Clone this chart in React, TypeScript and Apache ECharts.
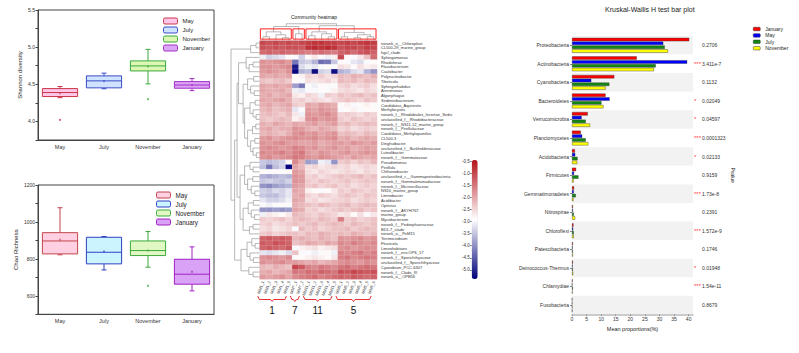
import React, { useEffect, useRef } from 'react';
import * as echarts from 'echarts';

// ---------- Box plots ----------
const months = ['May', 'July', 'November', 'January'];
// [min, Q1, median, Q3, max, mean]
const shannonStats = [
  [4.32, 4.335, 4.389, 4.442, 4.47, 4.38],
  [4.44, 4.452, 4.546, 4.613, 4.65, 4.54],
  [4.505, 4.68, 4.747, 4.815, 4.97, 4.74],
  [4.415, 4.447, 4.49, 4.536, 4.577, 4.49],
];
const shannonOutliers = [[0, 4.02], [2, 4.3]];
const chaoStats = [
  [822, 827, 897, 942, 1077, 903],
  [740, 773, 836, 917, 921, 840],
  [755, 818, 845, 897, 948, 846],
  [627, 663, 717, 798, 865, 731],
];
const chaoOutliers = [[2, 654]];

const topStroke = ['#c8374a', '#3a4cc4', '#3caa3c', '#a42fc8'];
const topFill = ['#ffc6e8', '#cfe2ff', '#dcf7b4', '#dba6f4'];
const botStroke = ['#c0454d', '#2f3fc0', '#3caa3c', '#a020c0'];
const botFill = ['#ffd0e2', '#ccf4ff', '#e2f8c4', '#d9a2f6'];

// ---------- Heatmap ----------
const rowNames = [
  'norank_o__Chloroplast', 'CL500-29_marine_group', 'hgcI_clade', 'Sphingomonas', 'Rhodoferax',
  'Flavobacterium', 'Caulobacter', 'Polynucleobacter', 'Tibeticola', 'Sphingorhabdus',
  'Arenimonas', 'Algoriphagus', 'Sediminibacterium', 'Candidatus_Aquirestis', 'Methylocystis',
  'norank_f__Rhodobiales_Incertae_Sedis', 'unclassified_f__Rhodobacteraceae', 'norank_f__NS11-12_marine_group', 'norank_f__Pirellulaceae', 'Candidatus_Methylopumilus',
  'CL500-3', 'Dinghuibacter', 'unclassified_f__Burkholderiaceae', 'Luteolibacter', 'norank_f__Gemmataceae',
  'Pseudomonas', 'Pirellula', 'Chthoniobacter', 'unclassified_c__Gammaproteobacteria', 'norank_f__Gemmatimonadaceae',
  'norank_f__Microscillaceae', 'NS10_marine_group', 'Limnobacter', 'Acidibacter', 'Opitutus',
  'norank_f__AKYH767', 'marine_group', 'Mycobacterium', 'norank_f__Pedosphaeraceae', 'BD1-7_clade',
  'norank_o__PeM15', 'Terrimicrobium', 'Fluviicola', 'Limnohabitans', 'norank_f__env.OPS_17',
  'norank_f__Sporichthyaceae', 'unclassified_f__Sporichthyaceae', 'Cyanobium_PCC-6307', 'norank_f__Clade_III', 'norank_o__OPB56',
];
const groupLabels = ['1', '7', '11', '5'];
const groupSizes = [5, 2, 5, 6];
const colNames = [
  'MM1_1', 'MM1_2', 'MM1_3', 'MM1_4', 'MM1_5',
  'MM7_1', 'MM7_2',
  'MM11_1', 'MM11_2', 'MM11_3', 'MM11_4', 'MM11_5',
  'MM5_1', 'MM5_2', 'MM5_3', 'MM5_4', 'MM5_5', 'MM5_6',
];
const heatValues = [
  [-1.0, -1.1, -1.0, -1.1, -1.0, -1.1, -1.0, -0.9, -0.8, -0.8, -0.9, -0.9, -1.0, -0.9, -1.0, -0.9, -0.8, -0.9],
  [-1.1, -1.2, -1.1, -1.2, -1.1, -1.1, -1.2, -0.8, -0.7, -0.8, -0.7, -0.8, -1.1, -1.0, -1.0, -1.1, -0.9, -1.0],
  [-1.4, -1.3, -1.4, -1.3, -1.4, -1.4, -1.5, -1.6, -1.5, -1.4, -1.5, -1.6, -1.3, -1.2, -1.4, -1.2, -1.1, -1.3],
  [-3.1, -3.4, -3.3, -3.2, -2.9, -3.0, -3.4, -2.9, -2.7, -3.0, -3.1, -2.8, -1.0, -2.9, -3.0, -2.7, -2.3, -1.4],
  [-1.8, -1.9, -1.8, -1.7, -1.9, -4.3, -3.5, -3.4, -3.7, -4.4, -4.3, -3.5, -2.9, -3.0, -3.2, -3.3, -3.0, -2.9],
  [-1.8, -1.8, -1.9, -1.8, -1.7, -5.2, -3.3, -3.1, -3.2, -3.0, -2.9, -3.0, -2.6, -2.7, -2.9, -2.6, -2.8, -2.7],
  [-1.9, -1.8, -1.9, -2.0, -1.8, -5.4, -3.7, -3.6, -5.3, -3.4, -3.3, -5.3, -3.7, -3.6, -3.3, -3.2, -3.7, -4.0],
  [-2.0, -2.1, -2.0, -2.1, -2.0, -2.9, -2.8, -2.5, -2.6, -2.4, -2.6, -2.5, -2.2, -2.3, -2.1, -2.2, -2.3, -2.1],
  [-2.3, -2.4, -2.3, -2.2, -2.4, -2.9, -3.0, -2.6, -2.7, -2.6, -2.5, -2.7, -2.2, -2.3, -2.2, -2.4, -2.2, -2.3],
  [-2.0, -2.1, -2.0, -2.1, -2.0, -3.9, -4.3, -3.0, -3.1, -2.9, -3.0, -3.0, -2.5, -2.4, -2.6, -2.5, -2.4, -2.6],
  [-2.0, -2.1, -2.1, -2.0, -2.2, -3.1, -3.2, -3.0, -3.0, -2.9, -3.0, -2.8, -2.6, -2.5, -2.6, -2.7, -2.5, -2.6],
  [-2.1, -2.0, -2.2, -2.1, -2.0, -2.7, -2.8, -2.5, -2.6, -3.1, -2.4, -2.5, -2.3, -2.4, -2.3, -2.2, -2.4, -2.3],
  [-2.0, -2.1, -2.0, -1.9, -2.1, -2.5, -2.4, -2.6, -2.5, -2.6, -2.7, -2.5, -2.4, -2.3, -2.4, -2.5, -2.3, -2.4],
  [-2.1, -2.0, -2.2, -2.1, -2.0, -2.4, -2.5, -2.0, -2.1, -1.9, -2.0, -2.1, -2.9, -2.8, -3.0, -2.9, -2.8, -3.0],
  [-2.2, -2.1, -2.3, -2.2, -2.1, -3.2, -3.0, -1.9, -2.0, -1.8, -1.9, -2.0, -3.0, -2.9, -2.8, -3.0, -2.9, -2.9],
  [-2.3, -2.2, -2.3, -2.4, -2.2, -2.7, -3.1, -1.8, -1.9, -1.8, -1.7, -1.9, -2.5, -2.4, -2.5, -2.6, -2.4, -2.5],
  [-2.3, -2.4, -2.3, -2.2, -2.3, -2.8, -2.6, -1.8, -1.7, -1.9, -1.8, -1.8, -2.4, -2.5, -2.3, -2.4, -2.5, -2.4],
  [-2.1, -2.2, -2.0, -2.1, -2.2, -2.0, -2.1, -2.0, -1.9, -2.1, -2.0, -1.9, -2.3, -2.2, -2.4, -2.3, -2.2, -2.3],
  [-2.1, -2.0, -2.2, -2.1, -2.1, -1.8, -1.9, -2.1, -2.2, -2.0, -2.1, -2.2, -2.5, -2.4, -2.6, -2.5, -2.4, -2.5],
  [-2.2, -2.1, -2.2, -2.3, -2.1, -1.8, -1.7, -1.9, -1.8, -2.0, -1.9, -1.8, -2.3, -2.2, -2.3, -2.4, -2.2, -2.3],
  [-1.9, -1.8, -2.0, -1.9, -1.8, -1.7, -1.8, -1.8, -1.7, -1.9, -1.8, -1.7, -2.1, -2.0, -2.2, -2.1, -2.0, -2.1],
  [-1.8, -1.9, -1.8, -1.7, -1.9, -1.9, -2.0, -2.0, -1.9, -2.1, -2.0, -1.9, -1.9, -2.0, -1.8, -1.9, -2.0, -1.9],
  [-1.8, -1.7, -1.8, -1.9, -1.8, -1.6, -1.7, -1.9, -1.8, -2.0, -1.9, -1.8, -2.0, -1.9, -2.1, -2.0, -1.9, -2.0],
  [-1.7, -1.8, -1.7, -1.6, -1.8, -1.6, -1.5, -1.9, -2.0, -1.8, -1.9, -2.0, -1.9, -1.8, -2.0, -1.9, -1.8, -1.9],
  [-1.8, -1.7, -1.9, -1.8, -1.7, -1.5, -1.6, -1.8, -1.9, -1.7, -1.8, -1.9, -2.0, -2.1, -1.9, -2.0, -2.1, -2.0],
  [-3.5, -3.6, -3.5, -3.4, -2.9, -1.7, -2.1, -3.9, -3.8, -3.1, -3.2, -4.0, -2.4, -2.3, -2.5, -2.3, -2.4, -2.2],
  [-3.6, -4.3, -3.6, -3.4, -5.4, -2.0, -2.2, -2.6, -2.5, -2.7, -2.6, -2.5, -2.6, -2.5, -2.7, -2.6, -2.5, -2.6],
  [-2.9, -3.0, -2.9, -3.0, -2.9, -1.9, -2.0, -2.6, -2.7, -2.5, -2.6, -2.7, -2.6, -2.5, -2.6, -2.7, -2.5, -2.6],
  [-3.7, -3.8, -3.7, -3.6, -3.7, -1.8, -1.9, -2.5, -2.4, -2.6, -2.5, -2.4, -2.3, -2.4, -2.3, -2.2, -2.4, -2.3],
  [-3.5, -3.4, -3.5, -3.6, -3.4, -1.8, -1.9, -2.4, -2.5, -2.3, -2.4, -2.5, -2.4, -2.3, -2.5, -2.4, -2.3, -2.4],
  [-4.0, -4.1, -3.9, -3.8, -3.7, -1.9, -2.0, -2.4, -2.3, -2.5, -2.4, -2.3, -2.5, -2.4, -2.6, -2.5, -2.4, -2.5],
  [-3.4, -3.5, -3.3, -3.4, -3.2, -2.0, -2.1, -2.8, -2.9, -3.0, -2.9, -2.7, -2.4, -2.5, -2.3, -2.4, -2.5, -2.4],
  [-3.5, -3.6, -3.6, -3.4, -3.2, -2.1, -2.0, -2.5, -2.6, -2.4, -2.5, -2.6, -2.4, -2.3, -2.4, -2.5, -2.3, -2.4],
  [-3.2, -3.4, -3.4, -3.3, -3.1, -2.0, -2.1, -2.6, -2.5, -2.7, -2.6, -2.5, -2.5, -2.4, -2.6, -2.5, -2.4, -2.5],
  [-3.0, -3.1, -3.0, -2.9, -3.0, -2.1, -2.2, -2.3, -2.4, -2.2, -2.3, -2.4, -2.3, -2.2, -2.4, -2.3, -2.2, -2.3],
  [-4.0, -4.0, -3.9, -4.0, -3.9, -2.0, -2.1, -2.5, -2.4, -2.6, -2.5, -2.4, -2.3, -2.4, -2.3, -2.2, -2.4, -2.3],
  [-3.1, -2.7, -2.8, -2.9, -2.7, -2.2, -2.3, -2.4, -2.5, -2.3, -2.4, -2.5, -2.7, -2.6, -2.9, -2.6, -3.0, -2.7],
  [-2.4, -2.5, -2.4, -2.3, -2.5, -2.3, -2.2, -2.3, -2.4, -2.2, -2.3, -2.4, -1.6, -2.4, -2.3, -2.5, -2.4, -2.3],
  [-2.5, -2.4, -2.6, -2.5, -2.4, -2.3, -2.4, -2.3, -2.2, -2.4, -2.3, -2.2, -2.3, -2.4, -2.2, -2.3, -2.4, -2.3],
  [-2.6, -2.5, -2.7, -2.6, -2.5, -3.0, -2.2, -2.4, -2.3, -2.5, -2.4, -2.3, -2.3, -2.2, -2.4, -2.3, -2.2, -2.3],
  [-2.4, -2.3, -2.5, -2.4, -2.3, -2.3, -2.4, -2.2, -2.3, -2.1, -2.2, -2.3, -2.2, -2.3, -2.1, -2.2, -2.3, -2.2],
  [-1.3, -1.2, -1.3, -1.2, -1.3, -2.2, -2.1, -2.2, -2.3, -2.1, -2.2, -2.3, -1.8, -1.9, -1.8, -1.7, -1.9, -1.8],
  [-1.2, -1.3, -1.1, -1.2, -1.3, -2.3, -2.2, -2.0, -2.1, -2.2, -2.0, -2.1, -1.7, -1.8, -1.6, -1.7, -1.8, -1.7],
  [-1.3, -1.2, -1.3, -1.4, -1.2, -3.0, -2.8, -2.7, -2.6, -2.8, -2.7, -2.6, -1.8, -1.7, -1.9, -1.8, -1.7, -1.8],
  [-3.2, -3.3, -3.2, -3.1, -3.3, -2.3, -3.0, -3.0, -3.1, -3.0, -2.9, -3.1, -1.6, -1.7, -1.6, -1.5, -1.7, -1.6],
  [-1.8, -1.7, -1.8, -1.9, -1.7, -3.0, -2.9, -2.8, -2.7, -2.8, -2.9, -2.7, -1.6, -1.5, -1.7, -1.6, -1.5, -1.6],
  [-1.8, -1.9, -1.8, -1.7, -1.9, -1.9, -2.0, -2.1, -2.0, -2.2, -2.1, -2.0, -1.8, -1.7, -1.8, -1.9, -1.7, -1.8],
  [-2.2, -2.3, -2.1, -2.2, -2.3, -1.0, -1.2, -1.6, -1.7, -1.5, -1.6, -1.7, -1.5, -1.4, -1.6, -1.5, -1.4, -1.5],
  [-2.1, -2.0, -2.2, -2.1, -2.0, -1.5, -1.6, -1.4, -1.5, -1.3, -1.4, -1.5, -1.1, -1.2, -1.0, -1.1, -1.2, -1.1],
  [-1.9, -2.0, -1.9, -1.8, -2.0, -1.7, -1.6, -1.5, -1.4, -1.6, -1.5, -1.4, -1.3, -1.4, -1.2, -1.3, -1.4, -1.3],
];

type Tree = number | [number, Tree, Tree];
const rowTree: Tree = [9.5,
  [3, [1.2, 0, 1], 2],
  [8.3,
    [7.5,
      [7, [4.5, 3, [3.5, [2.2, 4, 5], 6]],
        [5.5, [4, [2, 7, 8], [3, 9, [1.8, 10, 11]]],
          [5, [3.2, [1.5, 12, 13], [2.2, 14, [1.2, 15, 16]]],
            [4, [2.4, [1.3, 17, 18], 19], [3, [1.6, 20, 21], [2.2, 22, [1.1, 23, 24]]]]]]],
      [6.5, [5, [3.2, 25, [2.2, 26, 27]], [4, [2.3, 28, 29], [2.8, 30, [1.6, 31, 32]]]],
        [5.5, [3.8, [2.1, 33, 34], [2.8, 35, [1.7, 36, 37]]], [3.4, [2.2, 38, 39], 40]]]],
    [6.2, [4.2, [2.6, 41, [1.5, 42, 43]], [3.2, 44, [2.1, 45, 46]]], [3.6, 47, [2.2, 48, 49]]]]];
const colTree: Tree = [0.86,
  [0.72, [0.45, [0.2, 0, 1], [0.3, 2, [0.15, 3, 4]]], [0.35, 5, 6]],
  [0.76, [0.45, [0.25, 7, 8], [0.35, 9, [0.2, 10, 11]]], [0.42, [0.2, 12, 13], [0.3, [0.15, 14, 15], [0.2, 16, 17]]]]];

// ---------- Kruskal-Wallis bars ----------
const phyla = ['Proteobacteria', 'Actinobacteria', 'Cyanobacteria', 'Bacteroidetes', 'Verrucomicrobia',
  'Planctomycetes', 'Acidobacteria', 'Firmicutes', 'Gemmatimonadetes', 'Nitrospirae',
  'Chloroflexi', 'Patescibacteria', 'Deinococcus-Thermus', 'Chlamydiae', 'Fusobacteria'];
const january = [40.2, 22.2, 14.5, 11.5, 5.4, 3.0, 1.0, 1.4, 0.7, 0.3, 0.5, 0.3, 0.3, 0.2, 0.1];
const may = [31.3, 39.5, 6.6, 12.9, 3.3, 3.5, 1.1, 0.7, 0.6, 0.3, 0.4, 0.2, 0.2, 0.1, 0.1];
const july = [31.8, 28.7, 12.8, 10.1, 4.7, 4.7, 1.9, 2.2, 1.3, 0.6, 0.6, 0.3, 0.3, 0.3, 0.1];
const november = [32.9, 28.1, 11.5, 10.8, 6.2, 5.6, 1.8, 0.6, 0.5, 1.1, 0.6, 0.3, 0.4, 0.2, 0.1];
const pValues = ['0.2706', '3.411e-7', '0.1132', '0.02049', '0.04597', '0.0001323', '0.02133', '0.9159',
  '1.73e-8', '0.2391', '1.572e-9', '0.1746', '0.01948', '1.54e-11', '0.8679'];
const stars = ['', '***', '', '*', '*', '***', '*', '', '***', '', '***', '', '*', '***', ''];

// ---------- helpers ----------
function treeSegments(t: Tree, segs: number[][]): { pos: number; h: number } {
  if (typeof t === 'number') return { pos: t + 0.5, h: 0 };
  const [h, l, r] = t;
  const a = treeSegments(l, segs);
  const b = treeSegments(r, segs);
  segs.push([a.h, a.pos, h, a.pos], [b.h, b.pos, h, b.pos], [h, a.pos, h, b.pos]);
  return { pos: (a.pos + b.pos) / 2, h };
}

function makeBoxRender(strokes: string[], fills: string[]) {
  return (_p: any, api: any) => {
    const i = api.value(0);
    const mn = api.value(1), q1 = api.value(2), md = api.value(3), q3 = api.value(4), mx = api.value(5), mean = api.value(6);
    const band = api.size([1, 0])[0];
    const bw = band * 0.8;
    const cx = api.coord([i, md])[0];
    const Y = (v: number) => api.coord([i, v])[1];
    const s = strokes[i], f = fills[i];
    const lw = 1;
    const cap = 2.5;
    return {
      type: 'group',
      children: [
        { type: 'line', shape: { x1: cx, y1: Y(mx), x2: cx, y2: Y(q3) }, style: { stroke: s, lineWidth: lw } },
        { type: 'line', shape: { x1: cx, y1: Y(q1), x2: cx, y2: Y(mn) }, style: { stroke: s, lineWidth: lw } },
        { type: 'line', shape: { x1: cx - cap, y1: Y(mx), x2: cx + cap, y2: Y(mx) }, style: { stroke: s, lineWidth: lw } },
        { type: 'line', shape: { x1: cx - cap, y1: Y(mn), x2: cx + cap, y2: Y(mn) }, style: { stroke: s, lineWidth: lw } },
        { type: 'rect', shape: { x: cx - bw / 2, y: Y(q3), width: bw, height: Y(q1) - Y(q3) }, style: { fill: f, stroke: s, lineWidth: lw } },
        { type: 'line', shape: { x1: cx - bw / 2, y1: Y(md), x2: cx + bw / 2, y2: Y(md) }, style: { stroke: s, lineWidth: lw } },
        { type: 'rect', shape: { x: cx - 1, y: Y(mean) - 1, width: 2, height: 2 }, style: { fill: s, opacity: 0.6 } },
      ],
    };
  };
}

const lineRender = (color: string, width: number) => (_p: any, api: any) => {
  const p1 = api.coord([api.value(0), api.value(1)]);
  const p2 = api.coord([api.value(2), api.value(3)]);
  return { type: 'line', shape: { x1: p1[0], y1: p1[1], x2: p2[0], y2: p2[1] }, style: { stroke: color, lineWidth: width } };
};

function buildOption() {
  const font = 'Liberation Sans, Arial, sans-serif';
  const txt = '#333';

  const rowSegs: number[][] = [];
  treeSegments(rowTree, rowSegs);
  const colSegsRaw: number[][] = [];
  treeSegments(colTree, colSegsRaw);
  const colSegs = colSegsRaw.map(([h1, p1, h2, p2]) => [p1, h1, p2, h2]);

  const groupStarts: number[] = [];
  groupSizes.reduce((acc, n) => { groupStarts.push(acc); return acc + n; }, 0);
  const boxData = groupSizes.map((n, i) => [groupStarts[i] + 0.1, groupStarts[i] + n - 0.15, 0.08, 0.6]);
  const bracketData = groupSizes.map((n, i) => [groupStarts[i] - 0.3, groupStarts[i] + n - 0.9, i]);

  const heatData: number[][] = [];
  heatValues.forEach((row, r) => row.forEach((v, c) => heatData.push([c, r, v])));

  const legendDummies = (suffix: string, xi: number, strokes: string[], fills: string[]) =>
    months.map((m, i) => ({
      type: 'bar', name: m + suffix, data: [], xAxisIndex: xi, yAxisIndex: xi,
      itemStyle: { color: fills[i], borderColor: strokes[i], borderWidth: 1 },
    }));

  const series: any[] = [
    ...legendDummies('_t', 0, topStroke, topFill),
    ...legendDummies('_b', 1, botStroke, botFill),
    {
      type: 'custom', xAxisIndex: 0, yAxisIndex: 0, renderItem: makeBoxRender(topStroke, topFill),
      data: shannonStats.map((s, i) => [i, ...s]), clip: false,
    },
    {
      type: 'scatter', xAxisIndex: 0, yAxisIndex: 0, symbolSize: 2,
      data: shannonOutliers.map(([i, v]) => ({ value: [i, v], itemStyle: { color: topStroke[i] } })),
    },
    {
      type: 'custom', xAxisIndex: 1, yAxisIndex: 1, renderItem: makeBoxRender(botStroke, botFill),
      data: chaoStats.map((s, i) => [i, ...s]), clip: false,
    },
    {
      type: 'scatter', xAxisIndex: 1, yAxisIndex: 1, symbolSize: 2,
      data: chaoOutliers.map(([i, v]) => ({ value: [i, v], itemStyle: { color: botStroke[i] } })),
    },
  ];
  const heatIdx = series.length;
  series.push({
    type: 'heatmap', xAxisIndex: 2, yAxisIndex: 2, data: heatData,
    itemStyle: { borderColor: 'rgba(255,255,255,0.35)', borderWidth: 0.4 },
    emphasis: { disabled: true },
  });
  series.push(
    { type: 'custom', xAxisIndex: 3, yAxisIndex: 3, renderItem: lineRender('#999', 0.7), data: rowSegs, clip: false },
    { type: 'custom', xAxisIndex: 4, yAxisIndex: 4, renderItem: lineRender('#999', 0.7), data: colSegs, clip: false },
    {
      type: 'custom', xAxisIndex: 4, yAxisIndex: 4, clip: false, data: boxData,
      renderItem: (_p: any, api: any) => {
        const a = api.coord([api.value(0), api.value(3)]);
        const b = api.coord([api.value(1), api.value(2)]);
        return { type: 'rect', shape: { x: a[0], y: a[1], width: b[0] - a[0], height: b[1] - a[1] }, style: { fill: 'none', stroke: '#ff2020', lineWidth: 1 } };
      },
    },
    {
      type: 'custom', xAxisIndex: 5, yAxisIndex: 5, clip: false, data: bracketData,
      renderItem: (_p: any, api: any) => {
        const a = api.coord([api.value(0), 0]);
        const b = api.coord([api.value(1), 0]);
        const y = a[1];
        const xm = (a[0] + b[0]) / 2;
        return {
          type: 'group', children: [
            {
              type: 'polyline', shape: { points: [[a[0], y], [a[0] + 1.5, y + 3.5], [xm - 1.5, y + 3.5], [xm, y + 5.5], [xm + 1.5, y + 3.5], [b[0] - 1.5, y + 3.5], [b[0], y]] },
              style: { fill: 'none', stroke: '#e83030', lineWidth: 1 },
            },
            {
              type: 'text', x: xm, y: y + 14,
              style: { text: groupLabels[api.value(2)], fontSize: 10, fontFamily: font, fill: '#111', align: 'center', verticalAlign: 'middle' },
            },
          ],
        };
      },
    },
  );
  const barColors = ['#ff0000', '#0000ff', '#118811', '#ffff00'];
  const barNames = ['January', 'May', 'July', 'November'];
  [january, may, july, november].forEach((d, i) => {
    series.push({
      type: 'bar', name: barNames[i], data: d, xAxisIndex: 7, yAxisIndex: 7,
      barWidth: 3.4, barGap: '12%',
      itemStyle: { color: barColors[i], borderColor: '#333', borderWidth: 0.4 },
    });
  });

  const hidden = (extra: any) => ({ show: false, ...extra });
  const boxXAxis = (gi: number) => ({
    type: 'category', gridIndex: gi, data: months,
    axisLine: { lineStyle: { color: '#444' } },
    axisTick: { alignWithLabel: true, length: 2.5, lineStyle: { color: '#444' } },
    axisLabel: { fontSize: 5.5, color: txt, margin: 4 },
  });

  return {
    animation: false,
    textStyle: { fontFamily: font },
    title: [
      { text: 'Community heatmap', left: 291, top: 14, padding: 0, textStyle: { fontSize: 5, fontWeight: 'normal', color: '#222' } },
      { text: 'Kruskal-Wallis H test bar plot', left: 605, top: 6, padding: 0, textStyle: { fontSize: 7, fontWeight: 'normal', color: '#222' } },
    ],
    legend: [
      {
        data: months.map((m) => m + '_t'), left: 163, top: 17.5, orient: 'vertical', padding: 0,
        itemWidth: 14, itemHeight: 6, itemGap: 2, formatter: (n: string) => n.replace('_t', ''),
        textStyle: { fontSize: 6, color: '#222', lineHeight: 6 }, itemStyle: { borderWidth: 1 },
      },
      {
        data: months.map((m) => m + '_b'), left: 156, top: 191.5, orient: 'vertical', padding: 0,
        itemWidth: 14, itemHeight: 6, itemGap: 2, formatter: (n: string) => n.replace('_b', ''),
        textStyle: { fontSize: 6.3, color: '#222', lineHeight: 6 }, itemStyle: { borderWidth: 1 },
      },
      {
        data: barNames, left: 753, top: 26.5, orient: 'vertical', padding: 0,
        itemWidth: 7, itemHeight: 3.5, itemGap: 1.4,
        textStyle: { fontSize: 5, color: '#222', lineHeight: 5 }, itemStyle: { borderWidth: 0.5, borderColor: '#333' },
      },
    ],
    grid: [
      { left: 38, top: 10, width: 176, height: 130, show: true, borderColor: '#444', borderWidth: 1, containLabel: false },
      { left: 38, top: 185, width: 176, height: 129.3, show: true, borderColor: '#444', borderWidth: 1, containLabel: false },
      { left: 259.7, top: 40.7, width: 117.3, height: 238.5 },
      { left: 228, top: 40.7, width: 31.7, height: 238.5 },
      { left: 259.7, top: 21, width: 117.3, height: 19.7 },
      { left: 259.7, top: 296, width: 117.3, height: 20 },
      { left: 471.7, top: 161, width: 6, height: 121 },
      { left: 572, top: 36, width: 121, height: 278.3 },
    ],
    xAxis: [
      boxXAxis(0),
      boxXAxis(1),
      {
        type: 'category', gridIndex: 2, data: colNames, axisLine: { show: false }, axisTick: { show: false },
        axisLabel: { rotate: 70, fontSize: 4, color: txt, margin: 2, interval: 0 },
      },
      hidden({ type: 'value', gridIndex: 3, min: 0, max: 10.5, inverse: true }),
      hidden({ type: 'value', gridIndex: 4, min: 0, max: 18 }),
      hidden({ type: 'value', gridIndex: 5, min: 0, max: 18 }),
      hidden({ type: 'value', gridIndex: 6, min: 0, max: 1 }),
      {
        type: 'value', gridIndex: 7, min: 0, max: 41.5, interval: 5,
        axisLine: { show: true, lineStyle: { color: '#bbb', width: 1.5 } },
        axisTick: { show: true, length: 2, lineStyle: { color: '#999' } },
        axisLabel: { fontSize: 5, color: txt, margin: 2, showMaxLabel: false },
        splitLine: { show: false },
        name: 'Mean proportions(%)', nameLocation: 'middle', nameGap: 11,
        nameTextStyle: { fontSize: 5.5, color: '#222' },
      },
    ],
    yAxis: [
      {
        type: 'value', gridIndex: 0, min: 3.75, max: 5.5, interval: 0.25,
        axisLine: { show: true, lineStyle: { color: '#444' } },
        axisTick: { show: true, length: 2.5, lineStyle: { color: '#444' } },
        axisLabel: {
          fontSize: 5, color: txt, margin: 3,
          formatter: (v: number) => (Math.abs(v * 2 - Math.round(v * 2)) < 1e-6 ? v.toFixed(1) : ''),
        },
        splitLine: { show: false },
        name: 'Shannon diversity', nameLocation: 'middle', nameGap: 15, nameRotate: 90,
        nameTextStyle: { fontSize: 6, color: '#222' },
      },
      {
        type: 'value', gridIndex: 1, min: 500, max: 1200, interval: 100,
        axisLine: { show: true, lineStyle: { color: '#444' } },
        axisTick: { show: true, length: 2.5, lineStyle: { color: '#444' } },
        axisLabel: { fontSize: 5, color: txt, margin: 3, formatter: (v: number) => (v % 200 === 0 ? String(v) : '') },
        splitLine: { show: false },
        name: 'Chao Richness', nameLocation: 'middle', nameGap: 19, nameRotate: 90,
        nameTextStyle: { fontSize: 6, color: '#222' },
      },
      {
        type: 'category', gridIndex: 2, data: rowNames, inverse: true, position: 'right',
        axisLine: { show: false }, axisTick: { show: false },
        axisLabel: { fontSize: 4, color: txt, margin: 4, interval: 0 },
      },
      hidden({ type: 'value', gridIndex: 3, min: 0, max: 50, inverse: true }),
      hidden({ type: 'value', gridIndex: 4, min: 0, max: 1 }),
      hidden({ type: 'value', gridIndex: 5, min: 0, max: 20, inverse: true }),
      {
        type: 'value', gridIndex: 6, min: -5.5, max: -0.5, interval: 0.5, position: 'left',
        axisLine: { show: false }, axisTick: { show: true, length: 1.5, lineStyle: { color: '#666' } },
        axisLabel: { fontSize: 4.5, color: txt, margin: 2, showMinLabel: false, formatter: (v: number) => v.toFixed(1) },
        splitLine: { show: false },
      },
      {
        type: 'category', gridIndex: 7, data: phyla, inverse: true,
        axisLine: { show: false },
        axisTick: { show: true, alignWithLabel: true, length: 2, lineStyle: { color: '#888' } },
        axisLabel: { fontSize: 5, color: txt, margin: 3 },
        splitArea: { show: true, areaStyle: { color: ['#f2f2f2', '#ffffff'] } },
      },
      {
        type: 'category', gridIndex: 7, data: phyla, inverse: true, position: 'right',
        axisLine: { show: false }, axisTick: { show: false },
        axisLabel: { fontSize: 6, color: '#ff4040', margin: 1, formatter: (_v: string, i: number) => stars[i] },
      },
      {
        type: 'category', gridIndex: 7, data: phyla, inverse: true, position: 'right',
        axisLine: { show: false }, axisTick: { show: false },
        axisLabel: { fontSize: 5, color: txt, margin: 9, formatter: (_v: string, i: number) => pValues[i] },
        name: 'Pvalue', nameLocation: 'middle', nameRotate: -90, nameGap: 37,
        nameTextStyle: { fontSize: 5, color: '#222' },
      },
    ],
    visualMap: {
      type: 'continuous', seriesIndex: heatIdx, min: -5.45, max: -0.45,
      inRange: { color: ['#00007a', '#ffffff', '#b5121b'] },
      left: 471.7, top: 160, itemWidth: 6, itemHeight: 119, padding: 0,
      calculable: false, hoverLink: false, orient: 'vertical',
    },
    series,
  };
}

export default function App() {
  const ref = useRef<HTMLDivElement>(null);
  useEffect(() => {
    const chart = echarts.init(ref.current!, null, { renderer: 'svg' });
    chart.setOption(buildOption() as any);
    return () => chart.dispose();
  }, []);
  return (
    <div
      ref={ref}
      style={{ position: 'fixed', left: 0, top: 0, width: 799, height: 353, background: '#fff' }}
    />
  );
}
